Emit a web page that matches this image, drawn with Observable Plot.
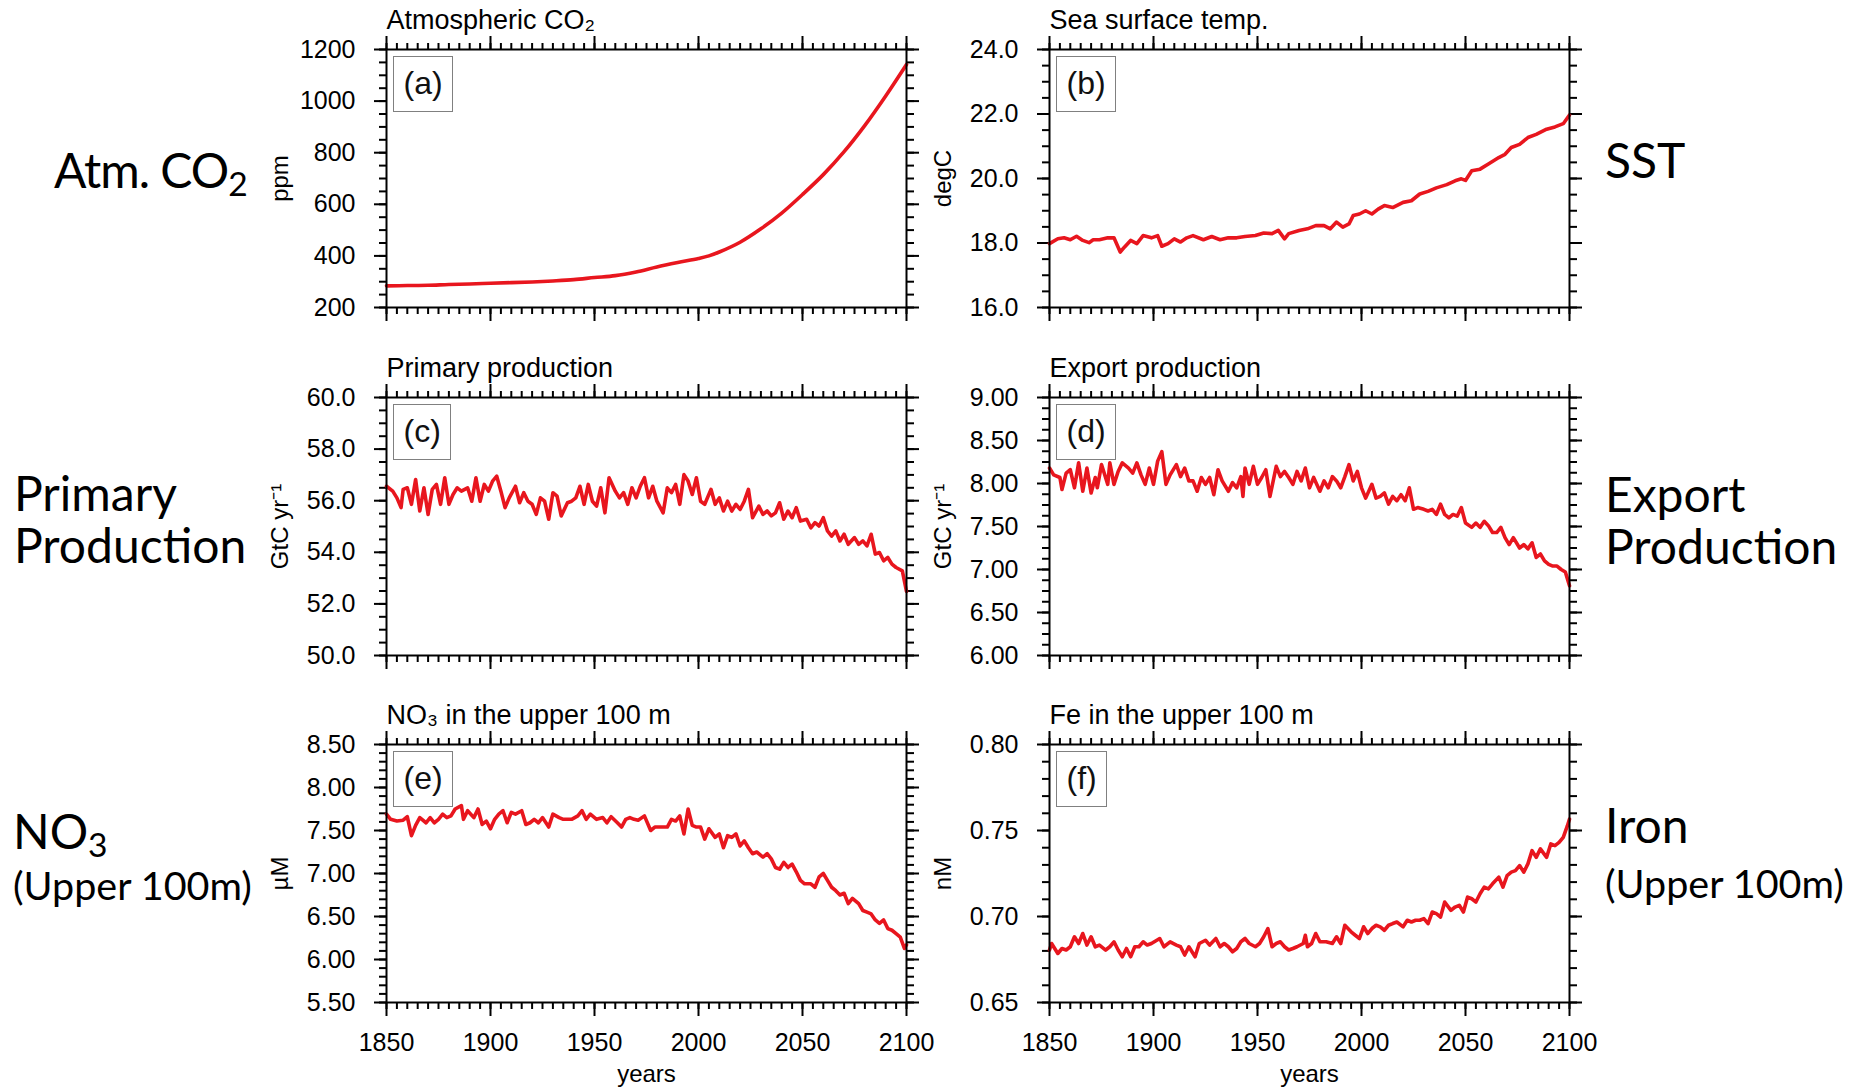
<!DOCTYPE html>
<html>
<head>
<meta charset="utf-8">
<script src="https://cdn.jsdelivr.net/npm/d3@7"></script>
<script src="https://cdn.jsdelivr.net/npm/@observablehq/plot@0.6"></script>
<style>
  html, body { margin: 0; padding: 0; background: white; }
  #page { position: relative; width: 1857px; height: 1091px; overflow: hidden; background: white; }
  .panel { position: absolute; }
  .tag { position: absolute; box-sizing: border-box; height: 56px; line-height: 53px; padding: 0 9.5px;
         border: 1.5px solid #808080; font-family: 'Liberation Sans', Arial, sans-serif;
         font-size: 32px; color: #111; background: white; }
  .side { position: absolute; font-family: Lato, 'Open Sans', sans-serif; font-size: 48px; line-height: 52px; color: black; white-space: nowrap; }
  .small { font-size: 39.5px; }
  .sub { font-size: 0.7em; position: relative; top: 0.25em; }
</style>
</head>
<body>
<div id="page"></div>
<script>
// ---------- data ----------
const xMajor = [1850, 1900, 1950, 2000, 2050, 2100];

const co2 = [[1850,284],[1860,285],[1870,286],[1880,289],[1890,291],[1900,294],[1910,296.5],[1920,299],[1930,303],[1940,308],[1950,316],[1960,323.5],[1970,338],[1980,357],[1990,374],[2000,390],[2005,400],[2010,415],[2020,453],[2030,505],[2040,566],[2050,638],[2060,715],[2070,804],[2080,906],[2090,1020],[2100,1142]];

const sst = [[1850,17.98],[1854,18.13],[1857,18.16],[1860,18.10],[1863,18.21],[1866,18.08],[1869,18.01],[1871,18.10],[1874,18.10],[1878,18.16],[1881,18.16],[1884,17.72],[1886,17.87],[1889,18.08],[1892,17.98],[1895,18.23],[1899,18.16],[1902,18.23],[1904,17.90],[1907,17.98],[1910,18.13],[1913,18.03],[1916,18.16],[1919,18.23],[1924,18.10],[1928,18.20],[1932,18.10],[1936,18.16],[1940,18.16],[1944,18.20],[1949,18.23],[1953,18.31],[1957,18.29],[1960,18.39],[1963,18.13],[1965,18.29],[1970,18.39],[1974,18.44],[1978,18.54],[1982,18.54],[1985,18.44],[1988,18.65],[1991,18.49],[1994,18.59],[1996,18.85],[1999,18.90],[2002,19.00],[2005,18.90],[2008,19.05],[2011,19.16],[2015,19.10],[2020,19.26],[2024,19.31],[2028,19.52],[2032,19.60],[2036,19.71],[2041,19.81],[2045,19.93],[2048,19.99],[2050,19.94],[2053,20.24],[2057,20.29],[2061,20.45],[2066,20.65],[2069,20.75],[2072,20.96],[2076,21.06],[2080,21.27],[2084,21.37],[2089,21.53],[2093,21.60],[2097,21.70],[2100,21.97]];

const primaryProd = [[1850,56.56],[1853,56.37],[1855,56.11],[1857,55.73],[1858,56.44],[1860,56.50],[1862,55.86],[1864,56.82],[1866,55.60],[1868,56.50],[1870,55.47],[1872,56.44],[1874,56.63],[1876,55.86],[1878,56.89],[1880,55.86],[1882,56.24],[1884,56.50],[1886,56.37],[1889,56.50],[1891,55.98],[1893,56.89],[1895,55.98],[1897,56.63],[1899,56.37],[1901,56.76],[1903,56.95],[1905,56.37],[1907,55.73],[1909,56.11],[1912,56.56],[1914,55.92],[1916,56.31],[1918,55.98],[1920,55.86],[1922,55.47],[1924,56.11],[1926,55.98],[1928,55.28],[1930,56.31],[1932,56.18],[1934,55.41],[1937,55.92],[1939,55.98],[1941,56.11],[1943,56.56],[1945,55.86],[1947,56.63],[1949,55.98],[1951,55.79],[1953,56.50],[1955,55.53],[1957,56.89],[1960,56.37],[1962,56.11],[1964,56.31],[1966,55.86],[1968,56.50],[1970,56.11],[1972,56.56],[1974,56.89],[1976,56.11],[1978,56.56],[1980,55.98],[1983,55.53],[1985,56.50],[1987,56.31],[1989,56.63],[1991,55.86],[1993,57.01],[1995,56.76],[1997,56.24],[1999,56.89],[2001,55.98],[2003,55.86],[2006,56.44],[2008,55.86],[2010,56.11],[2012,55.60],[2014,55.98],[2016,55.60],[2018,55.86],[2020,55.66],[2022,55.98],[2024,56.44],[2026,55.34],[2029,55.79],[2031,55.47],[2033,55.60],[2035,55.41],[2037,55.53],[2039,55.92],[2041,55.28],[2043,55.60],[2045,55.34],[2047,55.73],[2049,55.21],[2052,55.28],[2054,54.95],[2056,55.15],[2058,55.02],[2060,55.34],[2062,54.83],[2064,54.63],[2066,54.83],[2068,54.44],[2070,54.70],[2072,54.31],[2075,54.57],[2077,54.31],[2079,54.44],[2081,54.25],[2083,54.70],[2085,53.93],[2087,53.99],[2089,53.67],[2091,53.80],[2093,53.54],[2095,53.41],[2098,53.28],[2100,52.48]];

const exportProd = [[1850,8.18],[1852,8.10],[1855,8.07],[1856,7.93],[1858,8.12],[1860,8.16],[1862,7.95],[1864,8.24],[1866,7.91],[1868,8.18],[1870,7.89],[1872,8.07],[1873,7.95],[1875,8.22],[1878,7.99],[1879,8.24],[1881,7.99],[1883,8.14],[1885,8.24],[1888,8.18],[1890,8.12],[1892,8.24],[1894,8.10],[1896,7.99],[1898,8.18],[1900,7.99],[1902,8.26],[1904,8.37],[1906,7.99],[1908,8.10],[1911,8.22],[1913,8.08],[1915,8.18],[1917,8.03],[1919,8.03],[1921,7.91],[1923,8.07],[1925,7.99],[1927,8.07],[1929,7.87],[1931,8.16],[1933,8.03],[1936,7.91],[1938,8.01],[1940,7.95],[1942,8.08],[1943,7.85],[1944,8.18],[1946,7.99],[1948,8.20],[1950,7.99],[1952,8.07],[1954,8.16],[1956,7.85],[1959,8.20],[1961,8.08],[1963,8.14],[1965,8.07],[1967,7.99],[1969,8.14],[1971,8.03],[1973,8.18],[1975,7.95],[1977,8.07],[1980,7.91],[1982,8.03],[1984,7.95],[1986,8.08],[1988,8.03],[1990,7.95],[1992,8.08],[1994,8.22],[1996,8.03],[1998,8.14],[2000,7.95],[2002,7.83],[2005,7.99],[2007,7.83],[2009,7.85],[2011,7.89],[2013,7.76],[2015,7.85],[2017,7.80],[2019,7.87],[2021,7.80],[2023,7.95],[2025,7.70],[2027,7.72],[2030,7.70],[2032,7.68],[2034,7.70],[2036,7.64],[2038,7.76],[2040,7.64],[2042,7.60],[2044,7.64],[2046,7.62],[2048,7.72],[2050,7.54],[2053,7.49],[2055,7.54],[2057,7.49],[2059,7.56],[2061,7.51],[2063,7.43],[2065,7.43],[2067,7.49],[2069,7.37],[2071,7.29],[2073,7.37],[2076,7.25],[2078,7.29],[2080,7.24],[2082,7.31],[2084,7.14],[2086,7.18],[2088,7.10],[2090,7.06],[2092,7.04],[2094,7.04],[2096,7.00],[2098,6.97],[2100,6.81]];

const no3 = [[1850,7.69],[1852,7.63],[1855,7.61],[1858,7.62],[1860,7.66],[1862,7.44],[1864,7.56],[1866,7.65],[1869,7.59],[1871,7.65],[1873,7.59],[1875,7.63],[1877,7.69],[1879,7.65],[1881,7.67],[1883,7.75],[1886,7.79],[1887,7.63],[1889,7.73],[1892,7.65],[1894,7.75],[1896,7.57],[1898,7.61],[1900,7.52],[1902,7.63],[1904,7.69],[1906,7.73],[1908,7.59],[1910,7.71],[1912,7.69],[1915,7.73],[1917,7.57],[1919,7.59],[1921,7.63],[1923,7.59],[1925,7.65],[1928,7.54],[1930,7.69],[1933,7.65],[1935,7.63],[1939,7.63],[1942,7.67],[1944,7.73],[1946,7.63],[1948,7.69],[1951,7.63],[1954,7.65],[1956,7.59],[1958,7.66],[1961,7.59],[1963,7.54],[1965,7.63],[1967,7.65],[1969,7.63],[1971,7.62],[1974,7.67],[1977,7.50],[1979,7.54],[1982,7.54],[1985,7.54],[1987,7.63],[1989,7.61],[1991,7.67],[1993,7.46],[1995,7.75],[1997,7.56],[1999,7.54],[2001,7.54],[2003,7.40],[2005,7.52],[2008,7.42],[2010,7.46],[2012,7.30],[2014,7.44],[2016,7.42],[2018,7.46],[2020,7.32],[2022,7.38],[2024,7.30],[2026,7.23],[2028,7.25],[2031,7.19],[2033,7.23],[2035,7.17],[2037,7.07],[2039,7.05],[2041,7.13],[2043,7.07],[2045,7.11],[2047,7.02],[2049,6.92],[2051,6.88],[2054,6.88],[2056,6.84],[2058,6.96],[2060,7.00],[2062,6.92],[2064,6.84],[2066,6.80],[2068,6.75],[2070,6.77],[2072,6.65],[2074,6.71],[2077,6.65],[2079,6.57],[2081,6.55],[2083,6.53],[2085,6.46],[2087,6.42],[2089,6.46],[2091,6.36],[2093,6.34],[2095,6.30],[2097,6.26],[2099,6.13],[2100,6.17]];

const iron = [[1850,0.6805],[1851,0.6843],[1854,0.6785],[1856,0.6814],[1858,0.6805],[1860,0.6824],[1862,0.6882],[1864,0.6843],[1866,0.6901],[1868,0.6834],[1870,0.6882],[1872,0.6824],[1874,0.6834],[1877,0.6805],[1879,0.6824],[1881,0.6853],[1883,0.6805],[1885,0.6766],[1887,0.6814],[1889,0.6766],[1891,0.6824],[1893,0.6824],[1895,0.6853],[1897,0.6834],[1899,0.6843],[1903,0.6872],[1905,0.6824],[1908,0.6853],[1911,0.6834],[1913,0.6824],[1915,0.6776],[1917,0.6824],[1920,0.6766],[1922,0.6843],[1925,0.6862],[1927,0.6834],[1930,0.6872],[1932,0.6824],[1934,0.6843],[1936,0.6824],[1938,0.6795],[1940,0.6814],[1942,0.6853],[1944,0.6872],[1946,0.6843],[1949,0.6824],[1951,0.6843],[1953,0.6882],[1955,0.6930],[1957,0.6824],[1959,0.6843],[1961,0.6853],[1963,0.6824],[1965,0.6805],[1967,0.6814],[1969,0.6824],[1972,0.6843],[1973,0.6891],[1974,0.6824],[1976,0.6843],[1978,0.6901],[1980,0.6853],[1983,0.6853],[1986,0.6843],[1988,0.6882],[1990,0.6843],[1992,0.6949],[1995,0.6911],[1997,0.6891],[1999,0.6872],[2001,0.6940],[2003,0.6901],[2005,0.6930],[2007,0.6949],[2009,0.6940],[2011,0.6920],[2013,0.6949],[2015,0.6959],[2017,0.6968],[2020,0.6940],[2022,0.6978],[2024,0.6968],[2026,0.6978],[2028,0.6978],[2030,0.6988],[2032,0.6959],[2034,0.7026],[2036,0.7017],[2038,0.6997],[2040,0.7084],[2043,0.7036],[2045,0.7055],[2047,0.7065],[2049,0.7026],[2051,0.7113],[2053,0.7103],[2055,0.7084],[2057,0.7132],[2059,0.7171],[2061,0.7161],[2063,0.7190],[2066,0.7229],[2068,0.7171],[2070,0.7238],[2072,0.7258],[2074,0.7267],[2076,0.7296],[2078,0.7258],[2080,0.7306],[2082,0.7383],[2084,0.7344],[2086,0.7393],[2089,0.7344],[2091,0.7422],[2093,0.7412],[2095,0.7431],[2097,0.7460],[2099,0.7528],[2100,0.7566]];

const co2Ticks = [200, 400, 600, 800, 1000, 1200];
const sstTicks = [16, 18, 20, 22, 24];
const ppTicks  = [50, 52, 54, 56, 58, 60];
const epTicks  = [6, 6.5, 7, 7.5, 8, 8.5, 9];
const no3Ticks = [5.5, 6, 6.5, 7, 7.5, 8, 8.5];
const feTicks  = [0.65, 0.70, 0.75, 0.80];

const titles  = ["Atmospheric CO₂", "Sea surface temp.", "Primary production", "Export production", "NO₃ in the upper 100 m", "Fe in the upper 100 m"];
const yLabels = ["ppm", "degC", "GtC yr⁻¹", "GtC yr⁻¹", "µM", "nM"];
const tags    = ["(a)", "(b)", "(c)", "(d)", "(e)", "(f)"];

// ---------- layout ----------
const FONT = "'Liberation Sans', Arial, Helvetica, sans-serif";
const RED = "#e8161e";
const FW = 520, FH = 258, ML = 130, MR = 30, MT = 40;

const panels = [
  {data: co2, ticks: co2Ticks, minor: 50, fmt: d3.format("d"), left: 386, top: 49, bottom: false, curve: "catmull-rom"},
  {data: sst, ticks: sstTicks, minor: 0.5, fmt: d3.format(".1f"), left: 1049, top: 49, bottom: false},
  {data: primaryProd, ticks: ppTicks, minor: 0.5, fmt: d3.format(".1f"), left: 386, top: 397, bottom: false},
  {data: exportProd, ticks: epTicks, minor: 0.125, fmt: d3.format(".2f"), left: 1049, top: 397, bottom: false},
  {data: no3, ticks: no3Ticks, minor: 0.1, fmt: d3.format(".2f"), left: 386, top: 744, bottom: true},
  {data: iron, ticks: feTicks, minor: 0.01, fmt: d3.format(".2f"), left: 1049, top: 744, bottom: true}
];

const page = document.getElementById("page");
const blank = () => "";
const xMinor = d3.range(1850, 2101, 5);

panels.forEach((p, i) => {
  const MB = p.bottom ? 90 : 20;
  const y0 = p.ticks[0], y1 = p.ticks[p.ticks.length - 1];
  const yMinor = d3.range(y0, y1 + p.minor / 2, p.minor);
  const svg = Plot.plot({
    width: ML + FW + MR,
    height: MT + FH + MB,
    marginLeft: ML, marginRight: MR, marginTop: MT, marginBottom: MB,
    x: {domain: [1850, 2100], axis: null},
    y: {domain: [y0, y1], axis: null},
    style: {background: "transparent", overflow: "visible", fontFamily: FONT, fontSize: "25px", color: "black"},
    marks: [
      Plot.axisX({anchor: "bottom", ticks: xMinor, tickSize: 7, tickFormat: blank, label: null, strokeWidth: 2}),
      Plot.axisX({anchor: "top", ticks: xMinor, tickSize: 7, tickFormat: blank, label: null, strokeWidth: 2}),
      Plot.axisX({anchor: "bottom", ticks: xMajor, tickSize: 14, tickPadding: 17,
                  tickFormat: p.bottom ? d3.format("d") : blank, label: null, strokeWidth: 2}),
      Plot.axisX({anchor: "top", ticks: xMajor, tickSize: 14, tickFormat: blank, label: null, strokeWidth: 2}),
      Plot.axisY({anchor: "left", ticks: yMinor, tickSize: 7, tickFormat: blank, label: null, strokeWidth: 2}),
      Plot.axisY({anchor: "right", ticks: yMinor, tickSize: 7, tickFormat: blank, label: null, strokeWidth: 2}),
      Plot.axisY({anchor: "left", ticks: p.ticks, tickSize: 12, tickPadding: 19, tickFormat: p.fmt, label: null, strokeWidth: 2}),
      Plot.axisY({anchor: "right", ticks: p.ticks, tickSize: 12, tickFormat: blank, label: null, strokeWidth: 2}),
      Plot.line(p.data, {x: d => d[0], y: d => d[1], stroke: RED, strokeWidth: 3.6, curve: p.curve || "linear"}),
      Plot.frame({stroke: "black", strokeWidth: 2}),
      Plot.text([titles[i]], {text: d => d, frameAnchor: "top-left", textAnchor: "start", lineAnchor: "bottom", dy: -21, fontSize: 27}),
      Plot.text([yLabels[i]], {text: d => d, frameAnchor: "left", dx: -106, rotate: -90, textAnchor: "middle", lineAnchor: "middle", fontSize: 24}),
      p.bottom ? Plot.text(["years"], {text: d => d, frameAnchor: "bottom", dy: 72, lineAnchor: "middle", fontSize: 24}) : null
    ]
  });
  const div = document.createElement("div");
  div.className = "panel";
  div.style.left = (p.left - ML) + "px";
  div.style.top = (p.top - MT) + "px";
  div.appendChild(svg);
  page.appendChild(div);

  const tag = document.createElement("div");
  tag.className = "tag";
  tag.textContent = tags[i];
  tag.style.left = (p.left + 7) + "px";
  tag.style.top = (p.top + 7) + "px";
  page.appendChild(tag);
});

// ---------- side labels ----------
const sideLabels = [
  {html: 'Atm. CO<span class="sub">2</span>', left: 54, top: 144, ls: "-1px"},
  {html: 'SST', left: 1605, top: 134},
  {html: 'Primary<br>Production', left: 14, top: 467},
  {html: 'Export<br>Production', left: 1605, top: 468},
  {html: 'NO<span class="sub">3</span><br><span class="small">(Upper 100m)</span>', left: 13, top: 808, lh: "46px"},
  {html: 'Iron<br><span class="small">(Upper 100m)</span>', left: 1605, top: 797, lh: "55px"}
];
sideLabels.forEach(s => {
  const d = document.createElement("div");
  d.className = "side";
  d.innerHTML = s.html;
  d.style.left = s.left + "px";
  d.style.top = s.top + "px";
  if (s.ls) d.style.letterSpacing = s.ls;
  if (s.lh) d.style.lineHeight = s.lh;
  page.appendChild(d);
});
</script>
</body>
</html>
